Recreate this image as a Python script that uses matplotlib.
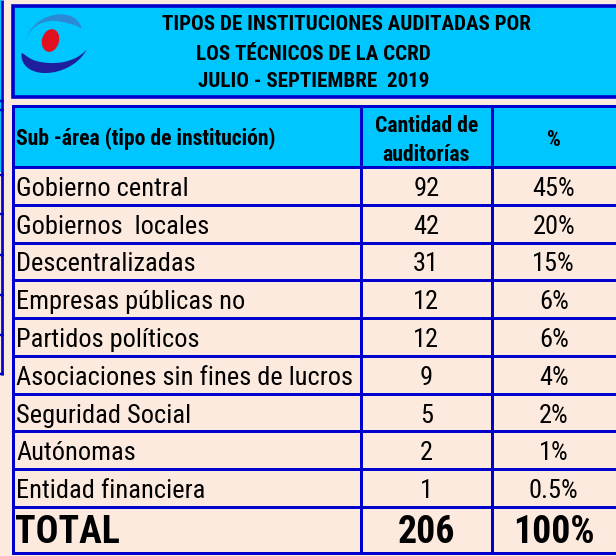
import numpy as np
import matplotlib
matplotlib.use("Agg")
import matplotlib.pyplot as plt
from matplotlib import font_manager as fm
from matplotlib.patches import Rectangle, Polygon, Ellipse

# ---------------- data ----------------
title_lines = ["TIPOS DE INSTITUCIONES AUDITADAS POR",
               "LOS TÉCNICOS DE LA CCRD",
               "JULIO - SEPTIEMBRE  2019"]
col_headers = ["Sub -área (tipo de institución)", "Cantidad de\nauditorías", "%"]
categories = ["Gobierno central", "Gobiernos  locales", "Descentralizadas",
              "Empresas públicas no", "Partidos políticos",
              "Asociaciones sin fines de lucros", "Seguridad Social",
              "Autónomas", "Entidad financiera"]
counts = [92, 42, 31, 12, 12, 9, 5, 2, 1]
percents = ["45%", "20%", "15%", "6%", "6%", "4%", "2%", "1%", "0.5%"]
total_label = "TOTAL"
total_count = 206
total_pct = "100%"

# ---------------- font choice (a narrow sans like Arial Narrow) ----------------
def _w(v):
    if isinstance(v, str):
        return fm.weight_dict.get(v, 400)
    return int(v)

avail = {}
for f in fm.fontManager.ttflist:
    avail.setdefault(f.name, set()).add(_w(f.weight))

candidates = ["Liberation Sans Narrow", "Arial Narrow", "Roboto Condensed",
              "Archivo Narrow", "IBM Plex Sans Condensed", "Fira Sans Condensed",
              "Barlow Semi Condensed", "DejaVu Sans Condensed"]
chosen = "Liberation Sans"
for c in candidates:
    ws = avail.get(c, set())
    if 400 in ws and any(w >= 650 for w in ws):
        chosen = c
        break
FONT = [chosen, "Liberation Sans", "DejaVu Sans"]

# ---------------- style ----------------
BG = "#FDEADF"
CYAN = "#00C6FF"
BLUE = "#0000CC"
W, H = 616, 556
DPI = 100
LW = 3 * 72 / DPI

fig = plt.figure(figsize=(W / DPI, H / DPI), dpi=DPI, facecolor=BG)
ax = fig.add_axes([0, 0, 1, 1])
ax.set_xlim(0, W)
ax.set_ylim(H, 0)
ax.axis("off")
ax.set_facecolor(BG)

# calibrate font sizes so text widths match the reference
renderer = fig.canvas.get_renderer()
def _width(s, size, bold):
    t = ax.text(0, 0, s, fontsize=size, family=FONT,
                fontweight="bold" if bold else "normal")
    w = t.get_window_extent(renderer).width
    t.remove()
    return w

k_reg = 172.0 / _width("Gobierno central", 20, False)
k_bold = 260.0 / _width("Sub -área (tipo de institución)", 16, True)
k_reg = min(max(k_reg, 0.6), 1.4)
k_bold = min(max(k_bold, 0.6), 1.4)

def txt(x, y, s, size, bold=False, ha="left"):
    k = k_bold if bold else k_reg
    ax.text(x, y, s, fontsize=size * k, fontweight="bold" if bold else "normal",
            family=FONT, ha=ha, va="baseline", color="black")

# ---- left sliver of neighbouring table ----
ax.add_patch(Rectangle((0, 0), 1.2, 172, facecolor=CYAN, edgecolor="none"))
ax.plot([1.8, 1.8], [0, 375], color=BLUE, lw=LW * 0.9, solid_capstyle="butt")
for yy in [101, 110, 175, 214, 255, 295, 335, 374]:
    ax.plot([0, 3.5], [yy, yy], color=BLUE, lw=LW * 0.8, solid_capstyle="butt")

# ---- main geometry ----
x_left, x_right = 12.5, 618
x_c1, x_c2 = 361, 491.5
title_top, title_bot = 6, 96.5
tab_top, head_bot = 106, 167
row_end = 507
tab_bot = 553
n = len(categories)
row_h = (row_end - head_bot) / n

ax.add_patch(Rectangle((x_left, title_top), x_right - x_left, title_bot - title_top,
                       facecolor=CYAN, edgecolor=BLUE, lw=LW * 1.2))
ax.add_patch(Rectangle((x_left, tab_top), x_right - x_left, head_bot - tab_top,
                       facecolor=CYAN, edgecolor="none"))

hl = [tab_top, head_bot] + [head_bot + row_h * (i + 1) for i in range(n)] + [tab_bot]
for yy in hl:
    ax.plot([x_left, x_right], [yy, yy], color=BLUE, lw=LW, solid_capstyle="projecting")
for xx in [x_left, x_c1, x_c2]:
    ax.plot([xx, xx], [tab_top, tab_bot], color=BLUE, lw=LW, solid_capstyle="projecting")

# ---- logo ----
def crescent(cx, cy, a, b, phi, t0, t1, wmax, color, skew=0.5):
    t = np.radians(np.linspace(t0, t1, 100))
    u = np.linspace(0, 1, 100)
    w = wmax * np.sin(np.pi * u ** (np.log(0.5) / np.log(skew)))
    p = np.radians(phi)
    def pts(aa, bb):
        x = aa * np.cos(t)
        y = bb * np.sin(t)
        return np.column_stack([cx + x * np.cos(p) - y * np.sin(p),
                                cy + x * np.sin(p) + y * np.cos(p)])
    outer = pts(a, b)
    inner = pts(a - w, b - w)
    poly = np.vstack([outer, inner[::-1]])
    ax.add_patch(Polygon(poly, closed=True, facecolor=color, edgecolor="none"))

crescent(54, 37, 29, 21, -25, 195, 372, 8, "#2B8AD6", skew=0.72)
crescent(55, 48, 35, 23, -22, 200, 35, 11, "#1F1F9E", skew=0.35)
ax.add_patch(Ellipse((50.5, 40.5), 17, 23, angle=15, facecolor="#E0101E", edgecolor="none"))

# ---- title text ----
title_x = [346, 313, 314]
title_base = [30, 60, 87]
for s, x, y in zip(title_lines, title_x, title_base):
    txt(x, y, s, 15.5, bold=True, ha="center")

# ---- header text ----
txt(16, 145, col_headers[0], 16, bold=True)
c1 = (x_c1 + x_c2) / 2
c2 = (x_c2 + 616) / 2
hdr2 = col_headers[1].split("\n")
txt(c1, 132, hdr2[0], 16, bold=True, ha="center")
txt(c1, 161, hdr2[1], 16, bold=True, ha="center")
txt(c2, 146, col_headers[2], 16, bold=True, ha="center")

# ---- body ----
for i, (cat, cnt, pct) in enumerate(zip(categories, counts, percents)):
    yc = head_bot + row_h * (i + 0.5)
    yb = yc + 10
    txt(16, yb, cat, 20)
    txt(c1, yb, str(cnt), 20, ha="center")
    txt(c2, yb, pct, 20, ha="center")

# ---- total ----
yb = 543
txt(15, yb, total_label, 28, bold=True)
txt(c1, yb, str(total_count), 28, bold=True, ha="center")
txt(c2, yb, total_pct, 28, bold=True, ha="center")

fig.savefig("out.png", dpi=DPI, facecolor=BG)
